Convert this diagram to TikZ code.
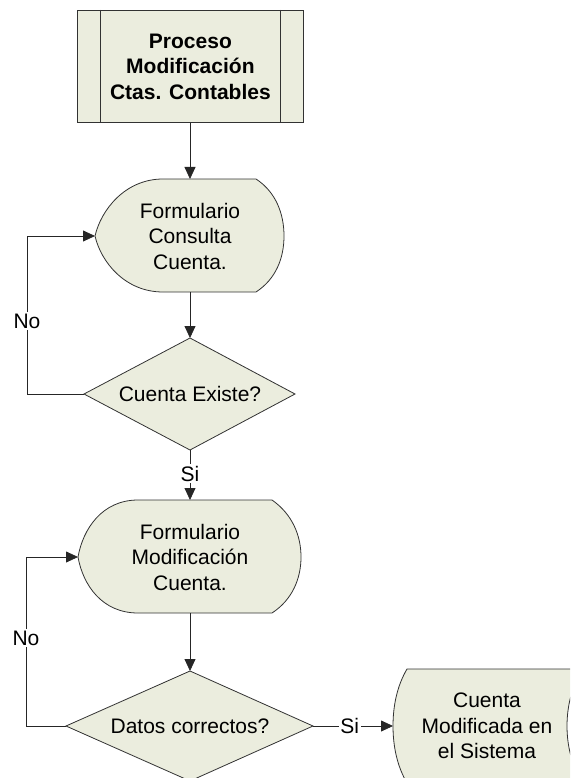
\documentclass[tikz,border=0pt]{standalone}
\usepackage{fontspec}
\setmainfont{Liberation Sans}
\usetikzlibrary{arrows.meta}

\definecolor{shapefill}{RGB}{235,237,222}
\definecolor{shapeline}{RGB}{50,50,50}

\begin{document}
\begin{tikzpicture}[x=1pt,y=-1pt,
  shapestyle/.style={fill=shapefill,draw=shapeline,line width=0.8pt},
  txt/.style={font=\fontsize{21}{25.5}\selectfont,align=center,inner sep=0pt},
  flow/.style={draw=black!85,line width=0.8pt,-{Triangle[length=12pt,width=11pt]}},
  tag/.style={font=\fontsize{21}{25.5}\selectfont,fill=white,inner sep=1.5pt}]
\useasboundingbox (0,0) rectangle (570,778);
\clip (0,0) rectangle (570,778);

% Predefined process box with its double side bars
\node[shapestyle, rectangle, minimum width=226pt, minimum height=112pt,
      inner sep=0pt, anchor=north west] (proc) at (77,10) {};
\draw[shapestyle] (100,10) -- (100,122) (280,10) -- (280,122);
\node[txt, font=\fontsize{21}{25.5}\selectfont\bfseries] (proctext) at (proc.center)
  {Proceso\\Modificación\\Ctas. Contables};

% Display shape: Formulario Consulta Cuenta
\draw[shapestyle] (163,179) -- (256,179)
  .. controls (276,192) and (284,214) .. (284,236)
  .. controls (284,258) and (276,279) .. (256,292) -- (163,292)
  .. controls (125,292) and (101,262) .. (95,236)
  .. controls (101,210) and (125,179) .. (163,179) -- cycle;
\coordinate (f1n) at (190,179);
\coordinate (f1s) at (190,292);
\coordinate (f1w) at (95,236);
\node[txt] (f1) at (190,236) {Formulario\\Consulta\\Cuenta.};

% Decision: Cuenta Existe?
\draw[shapestyle] (190,338) -- (295,394) -- (190,450) -- (84,394) -- cycle;
\coordinate (d1n) at (190,338);
\coordinate (d1s) at (190,450);
\coordinate (d1w) at (84,394);
\node[txt] (d1) at (190,394) {Cuenta Existe?};

% Display shape: Formulario Modificación Cuenta
\draw[shapestyle] (138,500) -- (272,500)
  .. controls (292,514) and (301,535) .. (301,557)
  .. controls (301,579) and (292,600) .. (272,613) -- (138,613)
  .. controls (102,613) and (83,585) .. (78,557)
  .. controls (83,529) and (102,500) .. (138,500) -- cycle;
\coordinate (f2n) at (190,500);
\coordinate (f2s) at (190,613);
\coordinate (f2w) at (78,557);
\node[txt] (f2) at (190,557) {Formulario\\Modificación\\Cuenta.};

% Decision: Datos correctos?
\draw[shapestyle] (190,671) -- (313,726) -- (190,781) -- (66,726) -- cycle;
\coordinate (d2n) at (190,671);
\coordinate (d2e) at (313,726);
\coordinate (d2w) at (66,726);
\node[txt] (d2) at (190,726) {Datos correctos?};

% Stored data: Cuenta Modificada en el Sistema
\draw[shapestyle] (407,669) -- (582,669)
  .. controls (572,686) and (567,706) .. (567,726)
  .. controls (567,746) and (572,766) .. (582,783) -- (407,783)
  .. controls (397,766) and (393,746) .. (393,726)
  .. controls (393,706) and (397,686) .. (407,669) -- cycle;
\coordinate (sdw) at (393,726);
\node[txt] (sd) at (487,726) {Cuenta\\Modificada en\\el Sistema};

% Connectors
\draw[flow] (f1n |- proc.south) -- (f1n);
\draw[flow] (f1s) -- (d1n);
\draw[flow] (d1w) -- ++(-57,0) |- (f1w) node[tag, pos=0.23] {No};
\draw[flow] (d1s) -- (f2n) node[tag, pos=0.47] {Si};
\draw[flow] (f2s) -- (d2n);
\draw[flow] (d2w) -- ++(-40,0) |- (f2w) node[tag, pos=0.26] {No};
\draw[flow] (d2e) -- (sdw) node[tag, pos=0.46] {Si};
\end{tikzpicture}
\end{document}
